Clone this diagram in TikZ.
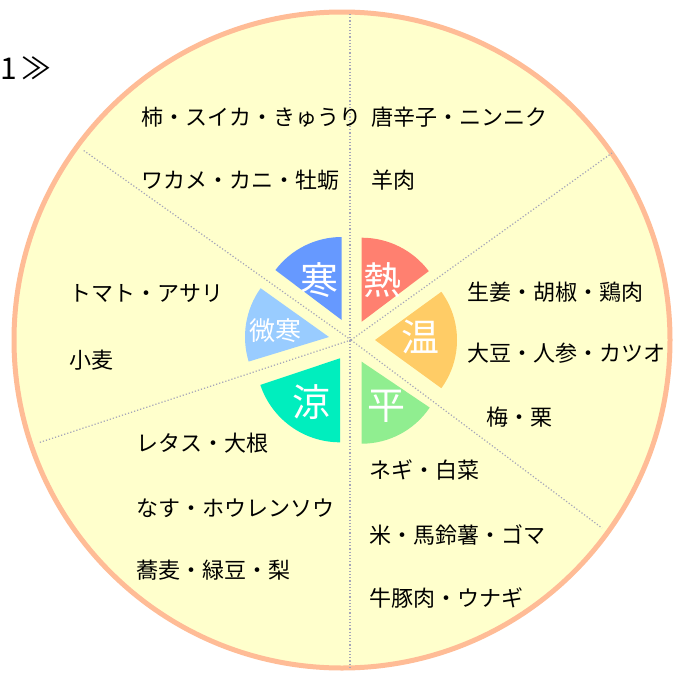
\documentclass[tikz,border=0pt]{standalone}
\usepackage{fontspec}
\setmainfont{Noto Sans CJK JP}
\definecolor{bgyellow}{RGB}{255,255,204}
\definecolor{rimorange}{RGB}{255,188,150}
\definecolor{divgray}{RGB}{165,165,185}
\definecolor{kancol}{RGB}{102,153,255}
\definecolor{netsucol}{RGB}{255,128,112}
\definecolor{oncol}{RGB}{255,204,102}
\definecolor{heicol}{RGB}{144,238,144}
\definecolor{ryocol}{RGB}{0,238,190}
\definecolor{bikancol}{RGB}{153,204,255}
\begin{document}
\begin{tikzpicture}[x=1pt,y=-1pt,
  food/.style={anchor=west,inner sep=0pt,font=\fontsize{22}{22}\selectfont,text=black},
  wlabel/.style={text=white,inner sep=0pt,font=\fontsize{38}{38}\selectfont},
  wlabelsmall/.style={text=white,inner sep=0pt,font=\fontsize{26}{26}\selectfont},
  divider/.style={draw=divgray,dotted,line width=1.2pt},
  wedgefill/.style={draw=none}]
\useasboundingbox (0,0) rectangle (675,675);
\fill[white] (0,0) rectangle (675,675);
% big circle
\draw[fill=bgyellow, draw=rimorange, line width=5pt] (342,340) circle[radius=328];
% dividers
\coordinate (c) at (351,340);
\coordinate (vtop) at (350,14);
\coordinate (vbot) at (350,667);
\coordinate (ul) at (83,150);
\coordinate (ur) at (612,153);
\coordinate (lr) at (602,528);
\coordinate (ll) at (38,443);
\draw[divider] (vtop) -- (vbot);
\draw[divider] (c) -- (ul);
\draw[divider] (c) -- (ur);
\draw[divider] (c) -- (lr);
\draw[divider] (c) -- (ll);
% wedges (tikz angle = - visual angle)
\fill[kancol] (341.7,320) -- ++(-90:83) arc[start angle=-90,end angle=-143,radius=83] -- cycle;
\fill[netsucol] (361.7,321.7) -- ++(-37:84) arc[start angle=-37,end angle=-90,radius=84] -- cycle;
\fill[oncol] (375,340) -- ++(36:82) arc[start angle=36,end angle=-36,radius=82] -- cycle;
\fill[heicol] (361.7,361.7) -- ++(90:82) arc[start angle=90,end angle=34,radius=82] -- cycle;
\fill[ryocol] (340,358.3) -- ++(161.5:84) arc[start angle=161.5,end angle=90,radius=84] -- cycle;
\fill[bikancol] (329,337) -- ++(215.5:84) arc[start angle=215.5,end angle=163,radius=84] -- cycle;
% wedge labels
\node[wlabel] (kan) at (319,280) {寒};
\node[wlabel] (netsu) at (382,280) {熱};
\node[wlabel] (on) at (420,337) {温};
\node[wlabel] (hei) at (386,406) {平};
\node[wlabel] (ryo) at (311,402) {涼};
\node[wlabelsmall] (bikan) at (275,331) {微寒};
% foods
\node[food] (f1) at (141,117) {柿・スイカ・きゅうり};
\node[food] (f2) at (141,180) {ワカメ・カニ・牡蛎};
\node[food] (f3) at (371,117) {唐辛子・ニンニク};
\node[food] (f4) at (371,180) {羊肉};
\node[food] (f5) at (467,292) {生姜・胡椒・鶏肉};
\node[food] (f6) at (467,353) {大豆・人参・カツオ};
\node[food] (f7) at (486,417) {梅・栗};
\node[food] (f8) at (369,470) {ネギ・白菜};
\node[food] (f9) at (369,535) {米・馬鈴薯・ゴマ};
\node[food] (f10) at (369,598) {牛豚肉・ウナギ};
\node[food] (f11) at (69,293) {トマト・アサリ};
\node[food] (f12) at (69,360) {小麦};
\node[food] (f13) at (136,443) {レタス・大根};
\node[food] (f14) at (136,508) {なす・ホウレンソウ};
\node[food] (f15) at (136,570) {蕎麦・緑豆・梨};
% title fragment
\node[anchor=west,inner sep=0pt,font=\fontsize{30}{30}\selectfont] (title) at (0,68) {1\hspace{5pt}≫};
\end{tikzpicture}
\end{document}
